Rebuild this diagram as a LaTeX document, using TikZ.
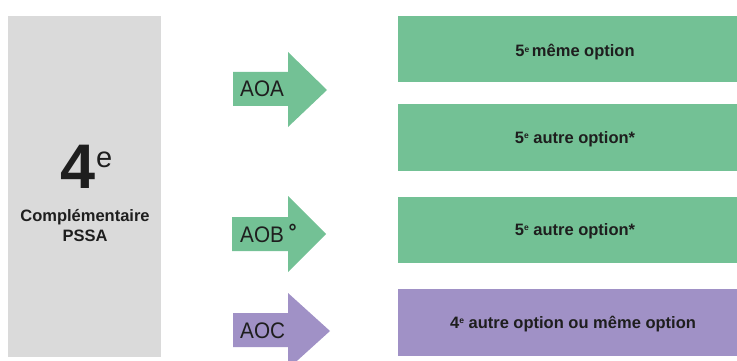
\documentclass[tikz,border=0pt]{standalone}
\usepackage{fontspec}
\usepackage{graphicx}
\setmainfont{Liberation Sans}
\definecolor{grn}{HTML}{73C195}
\definecolor{prp}{HTML}{A091C6}
\definecolor{gry}{HTML}{DADADA}
\definecolor{txt}{HTML}{1E1E1E}
\newcommand{\smalle}{\raisebox{0.55ex}{\fontsize{8.5}{8.5}\selectfont e}}
\tikzset{
  boxtxt/.style={font=\fontsize{16.5}{18}\selectfont\bfseries, text=txt, inner sep=0pt, anchor=base},
  arrtxt/.style={font=\fontsize{22.5}{24}\selectfont, text=txt, inner sep=0pt, anchor=base west},
  greenfill/.style={fill=grn, draw=none},
  purplefill/.style={fill=prp, draw=none},
}
\begin{document}
\begin{tikzpicture}[x=1pt,y=-1pt]
\useasboundingbox (0,0) rectangle (737,361);
% left gray block
\fill[gry] (8,16) rectangle (161,357);
\node[inner sep=0pt, text=txt, anchor=base west] (quatre) at (60,188)
  {\fontsize{63}{63}\selectfont\bfseries 4\hspace{1pt}\raisebox{21pt}{\fontsize{29}{29}\selectfont\mdseries e}};
\node[inner sep=0pt, text=txt, align=center, font=\fontsize{16.5}{20}\selectfont\bfseries] (compl) at (85,226)
  {Complémentaire\\PSSA};
% arrows
\fill[greenfill] (233,72) -- (288,72) -- (288,52) -- (327,90) -- (288,127) -- (288,106) -- (233,106) -- cycle;
\fill[greenfill] (232,217) -- (288,217) -- (288,196) -- (326,234) -- (288,272) -- (288,251) -- (232,251) -- cycle;
\fill[purplefill] (233,313) -- (288,313) -- (288,293) -- (330,331) -- (288,369) -- (288,347) -- (233,347) -- cycle;
\node[arrtxt] (aoa) at (240,96) {\scalebox{0.92}[1]{AOA}};
\node[arrtxt] (aob) at (240,242) {\scalebox{0.92}[1]{AOB\hspace{5pt}\raisebox{3pt}{\fontsize{22}{22}\selectfont\bfseries°}}};
\node[arrtxt] (aoc) at (240,338) {\scalebox{0.92}[1]{AOC}};
% right boxes
\fill[greenfill] (398,16) rectangle (737,82);
\fill[greenfill] (398,104) rectangle (737,171);
\fill[greenfill] (398,197) rectangle (737,263);
\fill[purplefill] (398,289) rectangle (737,356);
\node[boxtxt] (b1) at (575,57) {5\smalle\,même option};
\node[boxtxt] (b2) at (575,143) {5\smalle\ autre option*};
\node[boxtxt] (b3) at (575,235) {5\smalle\ autre option*};
\node[boxtxt] (b4) at (573,328) {4\smalle\ autre option ou même option};
\end{tikzpicture}
\end{document}
